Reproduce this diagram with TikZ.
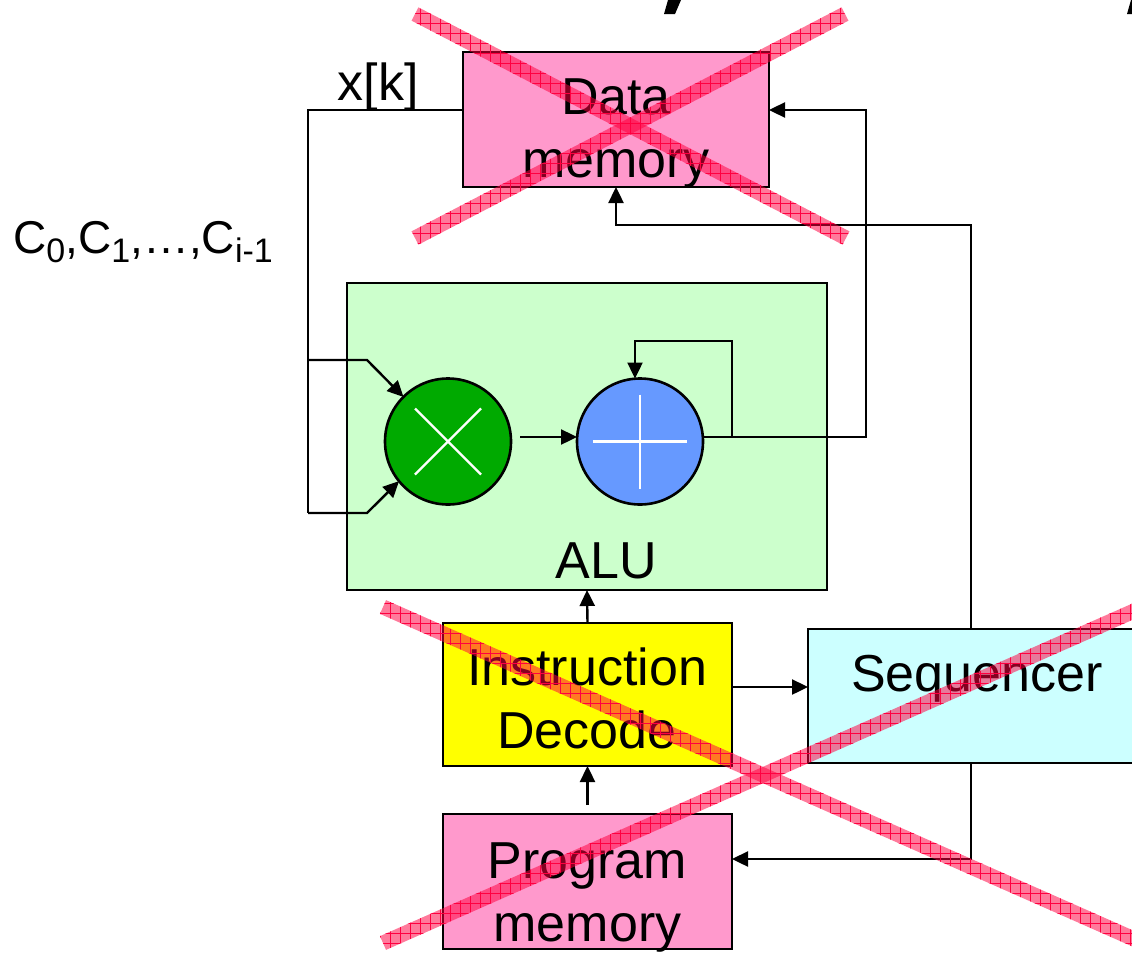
\documentclass[tikz,border=0pt]{standalone}
\usepackage{fontspec}
\setmainfont{Liberation Sans}
\usetikzlibrary{arrows.meta,calc,patterns.meta}
\definecolor{pinkmem}{HTML}{FF99CC}
\definecolor{alugreen}{HTML}{CCFFCC}
\definecolor{idyellow}{HTML}{FFFF00}
\definecolor{seqcyan}{HTML}{CCFFFF}
\definecolor{mulgreen}{HTML}{00AA00}
\definecolor{addblue}{HTML}{6699FF}
\definecolor{bandred}{HTML}{FF0040}
\newcommand{\bigfont}{\fontsize{52}{63}\selectfont}
\newcommand{\cfont}{\fontsize{46}{55}\selectfont}
\newcommand{\mysub}[1]{\raisebox{-0.2em}{\fontsize{34}{40}\selectfont #1}}
\newcommand{\xband}[2]{%
  \fill[bandred, fill opacity=0.52] ($(#1)!7.5pt!90:(#2)$) -- ($(#2)!7.5pt!-90:(#1)$) -- ($(#2)!7.5pt!90:(#1)$) -- ($(#1)!7.5pt!-90:(#2)$) -- cycle;
  \fill[pattern={Hatch[angle=0,distance=10pt,line width=0.5pt]}, pattern color=bandred, fill opacity=0.25] ($(#1)!7.5pt!90:(#2)$) -- ($(#2)!7.5pt!-90:(#1)$) -- ($(#2)!7.5pt!90:(#1)$) -- ($(#1)!7.5pt!-90:(#2)$) -- cycle;
}
\begin{document}
\begin{tikzpicture}[x=1pt,y=-1pt,
  blk/.style={draw, line width=2.2pt, inner sep=0pt, outer sep=0pt},
  lbl/.style={font=\bigfont, align=center, inner sep=0pt},
  circ/.style={circle, draw, line width=2.6pt, minimum size=126pt, inner sep=0pt, outer sep=0pt},
  wire/.style={line width=2.4pt},
  arr/.style={line width=2.4pt, -{Triangle[length=16pt,width=15pt]}},
  sym/.style={white, line width=2.2pt}]
\useasboundingbox (0,0) rectangle (1132,953);

% black fragments of a cut-off title
\fill (668,0) -- (681,0) -- (675,14) -- (664,14) -- cycle;
\fill (1131,0) -- (1140,0) -- (1140,14) -- (1127,14) -- cycle;

% boxes
\node[blk, fill=pinkmem, minimum width=306pt, minimum height=135pt] (dm) at (616,119.5) {};
\node[blk, fill=alugreen, minimum width=480pt, minimum height=307pt] (alu) at (587,436.5) {};
\node[blk, fill=idyellow, minimum width=289pt, minimum height=143pt] (id) at (587.5,694.5) {};
\node[blk, fill=pinkmem, minimum width=289pt, minimum height=135pt] (pm) at (587.5,881.5) {};
\node[blk, fill=seqcyan, minimum width=338pt, minimum height=134pt] (seq) at (977,696) {};

% texts
\node[lbl] (dmt) at (616,133.5) {Data\\memory};
\node[lbl] (idt) at (587,698.5) {Instruction\\Decode};
\node[lbl] (pmt) at (587.5,897) {Program\\memory};
\node[lbl, anchor=base] (seqt) at (977,691) {Sequencer};
\node[lbl, anchor=base] (alut) at (606,578) {ALU};
\node[lbl, anchor=base] (xk) at (378,100) {x[k]};
\node[font=\cfont, inner sep=0pt, anchor=base] (cc) at (143,253) {C\mysub{0},C\mysub{1},…,C\mysub{i-1}};

% operators
\node[circ, fill=mulgreen] (mul) at (448,441.5) {};
\node[circ, fill=addblue] (add) at (640,441.5) {};
\draw[sym] ($(mul)+(-33,-33)$) -- ($(mul)+(33,33)$);
\draw[sym] ($(mul)+(33,-33)$) -- ($(mul)+(-33,33)$);
\draw[sym] ($(add)+(-47,0)$) -- ($(add)+(47,0)$);
\draw[sym] ($(add)+(0,-47)$) -- ($(add)+(0,47)$);

% coordinates
\coordinate (Ltop) at (308,110);
\coordinate (Lmid) at (308,360);
\coordinate (Lbot) at (308,513);
\coordinate (Ka) at (367,360);
\coordinate (Kb) at (367,513);
\coordinate (R1) at (866,437);
\coordinate (R2) at (866,110);
\coordinate (F1) at (732,437);
\coordinate (F2) at (732,341);
\coordinate (F3) at (635,341);
\coordinate (S1) at (971,225);
\coordinate (S2) at (971,859);

% connectors
\draw[wire] (dm.west |- Ltop) -- (Ltop) -- (Lbot);
\draw[arr] (Lmid) -- (Ka) -- (mul.135);
\draw[arr] (Lbot) -- (Kb) -- (mul.219);
\draw[arr] ([xshift=9pt,yshift=4.5pt]mul.east) -- ([yshift=4.5pt]add.west);
\draw[arr] ([yshift=4.5pt]add.east) -- (R1) -- (R2) -- (R2 -| dm.east);
\draw[arr] (F1) -- (F2) -- (F3) -- (F3 |- add.north);
\draw[arr] (id.north) -- (alu.south);
\draw[arr] ([yshift=9pt]pm.north) -- (id.south);
\draw[arr] ([yshift=7.5pt]id.east) -- ([yshift=7.5pt]id.east -| seq.west);
\draw[arr] (S1 |- seq.north) -- (S1) -- (S1 -| dm.south) -- (dm.south);
\draw[arr] (S1 |- seq.south) -- (S2) -- (S2 -| pm.east);

% red crosses
\coordinate (ta1) at (415,14);
\coordinate (tb1) at (846,238);
\coordinate (ta2) at (845,14);
\coordinate (tb2) at (415,238);
\coordinate (ba1) at (383,607);
\coordinate (bb1) at (1143,943);
\coordinate (ba2) at (383,943);
\coordinate (bb2) at (1143,607);
\xband{ta1}{tb1}
\xband{ta2}{tb2}
\xband{ba1}{bb1}
\xband{ba2}{bb2}
\end{tikzpicture}
\end{document}
